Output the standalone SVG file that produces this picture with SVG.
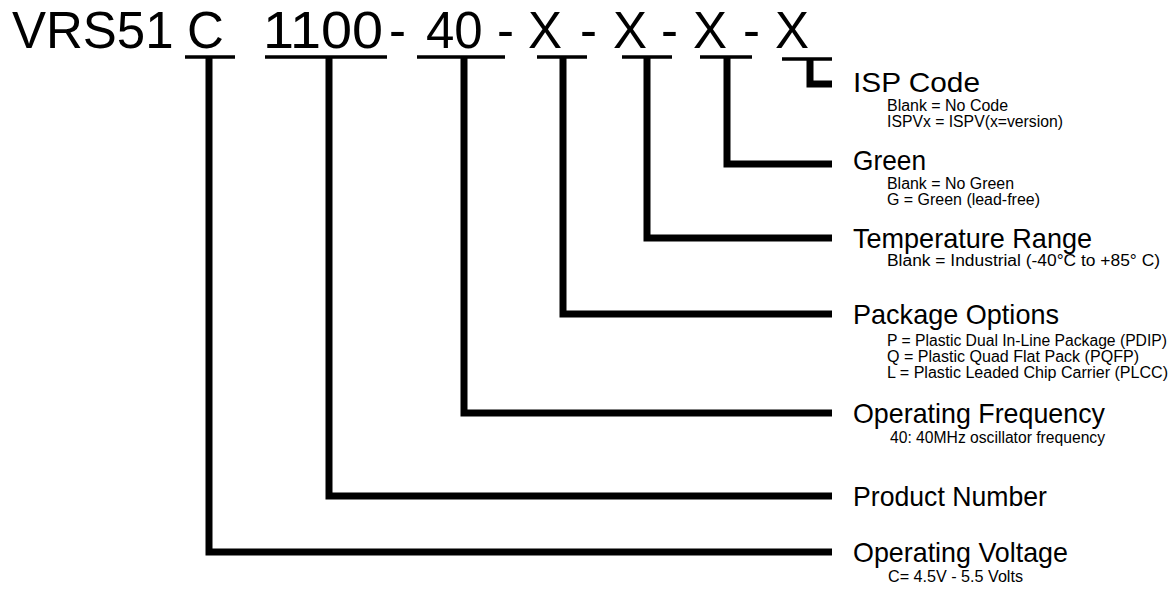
<svg xmlns="http://www.w3.org/2000/svg" width="1173" height="589" viewBox="0 0 1173 589">
<style>
text{font-family:"Liberation Sans",Arial,sans-serif;fill:#000}
.t{font-size:51px}
.h{font-size:28px}
.s{font-size:16px}
.ul{stroke:#000;stroke-width:3.5;fill:none}
.c{stroke:#000;stroke-width:7;fill:none;stroke-linejoin:miter}
</style>
<rect width="1173" height="589" fill="#fff"/>
<g id="title">
<text class="t" x="12" y="48">VRS51</text>
<text class="t" x="187" y="48">C</text>
<text class="t" x="263" y="48" textLength="120" lengthAdjust="spacingAndGlyphs">1100</text>
<text class="t" x="389" y="48">-</text>
<text class="t" x="426" y="48">40</text>
<text class="t" x="497" y="48">-</text>
<text class="t" x="528" y="48">X</text>
<text class="t" x="580" y="48">-</text>
<text class="t" x="613" y="48">X</text>
<text class="t" x="661" y="48">-</text>
<text class="t" x="693" y="48">X</text>
<text class="t" x="743" y="48">-</text>
<text class="t" x="775" y="48">X</text>
</g>
<g id="connectors">
<line class="ul" x1="185" y1="57" x2="235" y2="57"/>
<line class="ul" x1="265" y1="57" x2="387" y2="57"/>
<line class="ul" x1="417" y1="57" x2="505" y2="57"/>
<line class="ul" x1="537" y1="57" x2="587" y2="57"/>
<line class="ul" x1="622" y1="57" x2="672" y2="57"/>
<line class="ul" x1="700" y1="57" x2="752" y2="57"/>
<line class="ul" x1="782" y1="59" x2="832" y2="59"/>
<path class="c" d="M209 57V552H832"/>
<path class="c" d="M329 57V496H832"/>
<path class="c" d="M464 57V413H832"/>
<path class="c" d="M563 57V314H832"/>
<path class="c" d="M647 57V238H832"/>
<path class="c" d="M727 57V164H832"/>
<path class="c" d="M810 59V84H832"/>
</g>
<g id="isp">
<text class="h" x="853" y="92" textLength="127" lengthAdjust="spacingAndGlyphs">ISP Code</text>
<text class="s" x="887" y="111" textLength="121" lengthAdjust="spacingAndGlyphs">Blank = No Code</text>
<text class="s" x="887" y="127" textLength="176" lengthAdjust="spacingAndGlyphs">ISPVx = ISPV(x=version)</text>
</g>
<g id="green">
<text class="h" x="853" y="170" textLength="73" lengthAdjust="spacingAndGlyphs">Green</text>
<text class="s" x="887" y="189" textLength="127" lengthAdjust="spacingAndGlyphs">Blank = No Green</text>
<text class="s" x="887" y="205" textLength="153" lengthAdjust="spacingAndGlyphs">G = Green (lead-free)</text>
</g>
<g id="temperature">
<text class="h" x="853" y="248" textLength="239" lengthAdjust="spacingAndGlyphs">Temperature Range</text>
<text class="s" x="887" y="266" textLength="273" lengthAdjust="spacingAndGlyphs">Blank = Industrial (-40°C to +85° C)</text>
</g>
<g id="package">
<text class="h" x="853" y="324" textLength="206" lengthAdjust="spacingAndGlyphs">Package Options</text>
<text class="s" x="887" y="346" textLength="280" lengthAdjust="spacingAndGlyphs">P = Plastic Dual In-Line Package (PDIP)</text>
<text class="s" x="887" y="362" textLength="252" lengthAdjust="spacingAndGlyphs">Q = Plastic Quad Flat Pack (PQFP)</text>
<text class="s" x="887" y="378" textLength="281" lengthAdjust="spacingAndGlyphs">L = Plastic Leaded Chip Carrier (PLCC)</text>
</g>
<g id="frequency">
<text class="h" x="853" y="423" textLength="252" lengthAdjust="spacingAndGlyphs">Operating Frequency</text>
<text class="s" x="890" y="443" textLength="215" lengthAdjust="spacingAndGlyphs">40: 40MHz oscillator frequency</text>
</g>
<g id="product">
<text class="h" x="853" y="506" textLength="194" lengthAdjust="spacingAndGlyphs">Product Number</text>
</g>
<g id="voltage">
<text class="h" x="853" y="562" textLength="215" lengthAdjust="spacingAndGlyphs">Operating Voltage</text>
<text class="s" x="888" y="582" textLength="135" lengthAdjust="spacingAndGlyphs">C= 4.5V - 5.5 Volts</text>
</g>
</svg>
